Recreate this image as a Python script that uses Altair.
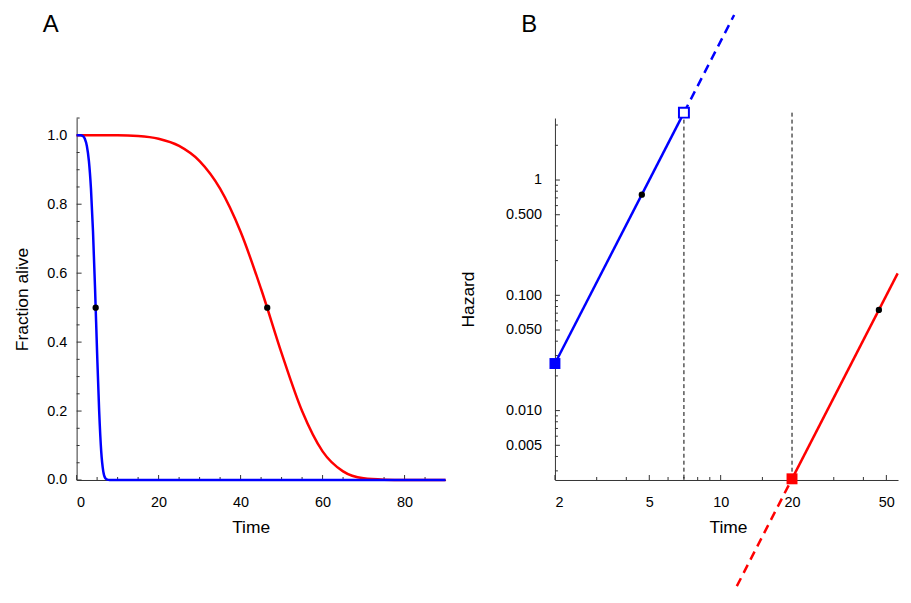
import altair as alt
import pandas as pd

# ---------------- Panel A: fraction alive vs time ----------------
A_T_BLUE = [0, 1, 1.5, 2, 2.5, 3, 3.5, 4, 4.5, 5, 5.5, 6, 6.5, 7, 7.5, 8, 90]
A_S_BLUE = [1.0, 1.0, 0.998, 0.99, 0.969, 0.925, 0.845, 0.72, 0.554, 0.368, 0.2, 0.083, 0.025, 0.005, 0.001, 0.0, 0.0]
A_T_RED = [0, 10, 15, 20, 25, 30, 35, 40, 45, 50, 55, 60, 65, 70, 75, 80, 90]
A_S_RED = [1.0, 1.0, 0.998, 0.99, 0.969, 0.925, 0.845, 0.72, 0.554, 0.368, 0.2, 0.083, 0.025, 0.005, 0.001, 0.0, 0.0]
A_DOT_T = [4.65, 46.5]
A_DOT_S = [0.5, 0.5]

A_X_DOMAIN = [0, 90]
A_Y_DOMAIN = [0, 1.05]
A_X_MAJOR = [0, 20, 40, 60, 80]
A_X_MINOR = [5, 10, 15, 25, 30, 35, 45, 50, 55, 65, 70, 75, 85]
A_Y_MAJOR = [0.0, 0.2, 0.4, 0.6, 0.8, 1.0]
A_Y_MINOR = [0.05, 0.1, 0.15, 0.25, 0.3, 0.35, 0.45, 0.5, 0.55, 0.65, 0.7, 0.75, 0.85, 0.9, 0.95, 1.05]

# ---------------- Panel B: hazard vs time (log-log) ----------------
B_BLUE_T = [2, 7]
B_BLUE_H = [0.0256, 3.84]
B_BLUE_EXT_T = [7, 11.4]
B_BLUE_EXT_H = [3.84, 27.0]
B_RED_T = [20, 55.8]
B_RED_H = [0.00256, 0.155]
B_RED_EXT_T = [11.7, 20]
B_RED_EXT_H = [0.0003, 0.00256]
B_START_T = [2, 20]
B_START_H = [0.0256, 0.00256]
B_START_COLOR = ["#0000ff", "#ff0000"]
B_OPEN_T = [7]
B_OPEN_H = [3.84]
B_DOT_T = [4.65, 46.5]
B_DOT_H = [0.746, 0.0746]
B_VLINE_T = [7, 20]
B_VLINE_TOP = [3.84, 3.84]

B_X_DOMAIN = [2, 56]
B_Y_DOMAIN = [0.0025, 3.45]
B_X_MAJOR = [2, 5, 10, 20, 50]
B_X_MINOR = [3, 4, 6, 7, 8, 9, 15, 30, 40]
B_Y_MAJOR = [0.005, 0.01, 0.05, 0.1, 0.5, 1]
B_Y_MINOR = [0.003, 0.004, 0.006, 0.007, 0.008, 0.009, 0.02, 0.03, 0.04, 0.06, 0.07,
             0.08, 0.09, 0.2, 0.3, 0.4, 0.6, 0.7, 0.8, 0.9, 2, 3]

AXIS_COLOR = "#333333"
FONT = "Liberation Sans"
LABEL_SIZE = 14.5
TITLE_SIZE = 17.5

# ---------- Panel A scales / axes ----------
A_XS = alt.Scale(domain=A_X_DOMAIN, nice=False, zero=False)
A_YS = alt.Scale(domain=A_Y_DOMAIN, nice=False, zero=False)
A_XAX = alt.Axis(values=A_X_MAJOR, format="d", ticks=False, grid=False, labelPadding=15.5,
                 title="Time", titlePadding=9.8, titleX=175)
A_YAX = alt.Axis(values=A_Y_MAJOR, format=".1f", ticks=False, grid=False, labelPadding=10,
                 title="Fraction alive", titlePadding=15)


def ax(field=None, datum=None):
    if datum is not None:
        return alt.XDatum(datum, type="quantitative", scale=A_XS, axis=A_XAX)
    return alt.X(field, type="quantitative", scale=A_XS, axis=A_XAX)


def ay(field=None, datum=None):
    if datum is not None:
        return alt.YDatum(datum, type="quantitative", scale=A_YS, axis=A_YAX)
    return alt.Y(field, type="quantitative", scale=A_YS, axis=A_YAX)


a_blue = pd.DataFrame({"t": A_T_BLUE, "v": A_S_BLUE})
a_red = pd.DataFrame({"t": A_T_RED, "v": A_S_RED})
a_dots = pd.DataFrame({"t": A_DOT_T, "v": A_DOT_S})

a_layers = [
    alt.Chart(pd.DataFrame({"v": A_Y_MAJOR})).mark_tick(orient="horizontal", size=5, thickness=1, xOffset=2.5, color=AXIS_COLOR, opacity=1)
    .encode(x=ax(datum=A_X_DOMAIN[0]), y=ay("v")),
    alt.Chart(pd.DataFrame({"v": A_Y_MINOR})).mark_tick(orient="horizontal", size=3, thickness=1, xOffset=1.5, color=AXIS_COLOR, opacity=1)
    .encode(x=ax(datum=A_X_DOMAIN[0]), y=ay("v")),
    alt.Chart(pd.DataFrame({"t": A_X_MAJOR})).mark_tick(orient="vertical", size=5, thickness=1, yOffset=-2.5, color=AXIS_COLOR, opacity=1)
    .encode(x=ax("t"), y=ay(datum=A_Y_DOMAIN[0])),
    alt.Chart(pd.DataFrame({"t": A_X_MINOR})).mark_tick(orient="vertical", size=3, thickness=1, yOffset=-1.5, color=AXIS_COLOR, opacity=1)
    .encode(x=ax("t"), y=ay(datum=A_Y_DOMAIN[0])),
    alt.Chart(a_red).mark_line(color="#ff0000", strokeWidth=2.5, interpolate="monotone").encode(x=ax("t"), y=ay("v")),
    alt.Chart(a_blue).mark_line(color="#0000ff", strokeWidth=2.5, interpolate="monotone").encode(x=ax("t"), y=ay("v")),
    alt.Chart(a_dots).mark_circle(size=40, color="black", opacity=1).encode(x=ax("t"), y=ay("v")),
]

panel_a = alt.layer(*a_layers).properties(
    width=371, height=364,
    title=alt.Title("A", anchor="start", frame="group", dx=-34, offset=62, baseline="alphabetic",
                    fontSize=24, font=FONT, fontWeight="normal", color="black"),
)

# ---------- Panel B scales / axes ----------
B_XS = alt.Scale(type="log", domain=B_X_DOMAIN, nice=False, zero=False)
B_YS = alt.Scale(type="log", domain=B_Y_DOMAIN, nice=False, zero=False)
B_XAX = alt.Axis(values=B_X_MAJOR, format="d", ticks=False, grid=False, labelPadding=15.5,
                 title="Time", titlePadding=9.8, titleX=174, labelOverlap=False)
B_YAX = alt.Axis(values=B_Y_MAJOR, ticks=False, grid=False, labelPadding=13.5,
                 labelExpr="datum.value >= 1 ? format(datum.value, 'd') : format(datum.value, '.3f')",
                 title="Hazard", titlePadding=28, labelOverlap=False)


def bx(field=None, datum=None):
    if datum is not None:
        return alt.XDatum(datum, type="quantitative", scale=B_XS, axis=B_XAX)
    return alt.X(field, type="quantitative", scale=B_XS, axis=B_XAX)


def by(field=None, datum=None):
    if datum is not None:
        return alt.YDatum(datum, type="quantitative", scale=B_YS, axis=B_YAX)
    return alt.Y(field, type="quantitative", scale=B_YS, axis=B_YAX)


b_blue = pd.DataFrame({"t": B_BLUE_T, "v": B_BLUE_H})
b_blue_ext = pd.DataFrame({"t": B_BLUE_EXT_T, "v": B_BLUE_EXT_H})
b_red = pd.DataFrame({"t": B_RED_T, "v": B_RED_H})
b_red_ext = pd.DataFrame({"t": B_RED_EXT_T, "v": B_RED_EXT_H})
b_start = pd.DataFrame({"t": B_START_T, "v": B_START_H, "c": B_START_COLOR})
b_open = pd.DataFrame({"t": B_OPEN_T, "v": B_OPEN_H})
b_dots = pd.DataFrame({"t": B_DOT_T, "v": B_DOT_H})
b_vl = pd.DataFrame({"t": B_VLINE_T, "v": B_VLINE_TOP})

b_layers = [
    alt.Chart(pd.DataFrame({"v": B_Y_MAJOR})).mark_tick(orient="horizontal", size=5, thickness=1, xOffset=2.5, color=AXIS_COLOR, opacity=1)
    .encode(x=bx(datum=B_X_DOMAIN[0]), y=by("v")),
    alt.Chart(pd.DataFrame({"v": B_Y_MINOR})).mark_tick(orient="horizontal", size=3, thickness=1, xOffset=1.5, color=AXIS_COLOR, opacity=1)
    .encode(x=bx(datum=B_X_DOMAIN[0]), y=by("v")),
    alt.Chart(pd.DataFrame({"t": B_X_MAJOR})).mark_tick(orient="vertical", size=5, thickness=1, yOffset=-2.5, color=AXIS_COLOR, opacity=1)
    .encode(x=bx("t"), y=by(datum=B_Y_DOMAIN[0])),
    alt.Chart(pd.DataFrame({"t": B_X_MINOR})).mark_tick(orient="vertical", size=3, thickness=1, yOffset=-1.5, color=AXIS_COLOR, opacity=1)
    .encode(x=bx("t"), y=by(datum=B_Y_DOMAIN[0])),
    alt.Chart(b_vl).mark_rule(color="black", strokeWidth=1, strokeDash=[4, 3])
    .encode(x=bx("t"), y=by("v"), y2=alt.Y2Datum(B_Y_DOMAIN[0])),
    alt.Chart(b_blue_ext).mark_line(color="#0000ff", strokeWidth=2.5, strokeDash=[9, 6]).encode(x=bx("t"), y=by("v")),
    alt.Chart(b_red_ext).mark_line(color="#ff0000", strokeWidth=2.5, strokeDash=[9, 6]).encode(x=bx("t"), y=by("v")),
    alt.Chart(b_blue).mark_line(color="#0000ff", strokeWidth=2.5).encode(x=bx("t"), y=by("v")),
    alt.Chart(b_red).mark_line(color="#ff0000", strokeWidth=2.5).encode(x=bx("t"), y=by("v")),
    alt.Chart(b_start).mark_square(size=121, opacity=1, filled=True)
    .encode(x=bx("t"), y=by("v"), color=alt.Color("c:N", scale=None, legend=None)),
    alt.Chart(b_open).mark_square(size=100, fill="white", stroke="#0000ff", strokeWidth=2,
                                  fillOpacity=1, strokeOpacity=1, filled=True)
    .encode(x=bx("t"), y=by("v")),
    alt.Chart(b_dots).mark_circle(size=40, color="black", opacity=1).encode(x=bx("t"), y=by("v")),
]

panel_b = alt.layer(*b_layers).properties(
    width=345, height=364,
    title=alt.Title("B", anchor="start", frame="group", dx=-34, offset=-46, baseline="alphabetic",
                    fontSize=24, font=FONT, fontWeight="normal", color="black"),
)

chart = alt.hconcat(panel_a, panel_b, spacing=110, bounds="flush").properties(
    padding={"left": 5, "top": 0, "right": 0, "bottom": 0}
).configure_view(stroke=None).configure_axis(
    domainColor=AXIS_COLOR, domainWidth=1, labelColor="black", labelFont=FONT,
    labelFontSize=LABEL_SIZE, titleFont=FONT, titleFontSize=TITLE_SIZE,
    titleFontWeight="normal", titleColor="black",
)

chart.save("out.html", embed_options={"renderer": "svg", "actions": False})
